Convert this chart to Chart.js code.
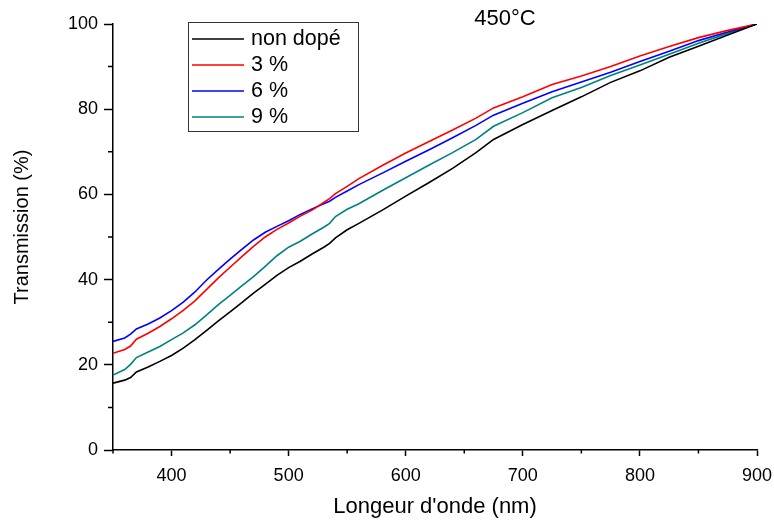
<!DOCTYPE html>
<html>
<head>
<meta charset="utf-8">
<script src="https://cdn.jsdelivr.net/npm/chart.js@4/dist/chart.umd.min.js"></script>
<style>
  html, body { margin: 0; padding: 0; background: #fff; }
  #wrap { width: 774px; height: 520px; }
</style>
</head>
<body>
<div id="wrap"><canvas id="chart" width="774" height="520"></canvas></div>
<script>
// longueur d'onde (nm)
const wavelengths = [350, 360, 365, 370, 380, 390, 400, 410, 420, 430, 440, 450, 460, 470, 480, 490,
  500, 510, 520, 530, 535, 540, 550, 560, 580, 600, 620, 640, 660, 675, 700, 725, 750, 775, 800, 825, 850, 875, 900];

const nonDope = [15.7, 16.4, 17.0, 18.3, 19.5, 20.8, 22.2, 23.9, 25.9, 28.1, 30.3, 32.4, 34.6, 36.8, 38.9, 41.0,
  42.8, 44.3, 46.0, 47.6, 48.5, 49.8, 51.7, 53.2, 56.3, 59.6, 62.8, 66.1, 69.8, 72.9, 76.4, 79.7, 82.9, 86.3, 89.0, 92.2, 94.8, 97.4, 100];
const dope3 = [22.7, 23.6, 24.4, 26.0, 27.4, 29.0, 30.8, 32.8, 35.0, 37.7, 40.4, 42.9, 45.4, 47.8, 50.0, 51.8,
  53.3, 54.9, 56.3, 58.1, 59.0, 60.2, 61.9, 63.7, 66.8, 69.7, 72.4, 75.1, 77.9, 80.3, 82.9, 85.8, 87.8, 90.0, 92.5, 94.7, 96.8, 98.5, 100];
const dope6 = [25.5, 26.3, 27.2, 28.4, 29.6, 31.0, 32.7, 34.7, 37.1, 39.9, 42.4, 44.8, 47.1, 49.3, 51.1, 52.5,
  53.8, 55.3, 56.6, 57.8, 58.4, 59.3, 60.8, 62.3, 65.0, 67.8, 70.5, 73.3, 76.2, 78.6, 81.4, 84.1, 86.4, 88.7, 91.2, 93.6, 96.1, 98.1, 100];
const dope9 = [17.6, 18.9, 20.1, 21.7, 23.0, 24.3, 25.9, 27.5, 29.4, 31.7, 34.1, 36.3, 38.5, 40.7, 43.1, 45.6,
  47.6, 49.0, 50.7, 52.3, 53.2, 54.8, 56.5, 57.8, 60.9, 63.9, 66.9, 69.8, 72.9, 76.0, 79.2, 82.7, 85.1, 87.9, 90.4, 92.9, 95.5, 97.8, 100];

const seriesNames = ['non dopé', '3 %', '6 %', '9 %'];
const seriesColors = ['#000000', '#ff0000', '#0000ff', '#008080'];
const seriesValues = [nonDope, dope3, dope6, dope9];

const xMajor = [400, 500, 600, 700, 800, 900];
const xMinor = [350, 450, 550, 650, 750, 850];
const yMajor = [0, 20, 40, 60, 80, 100];
const yMinor = [10, 30, 50, 70, 90];

const FONT = 'Arial, "Liberation Sans", sans-serif';

// petites graduations + legende + titres
const extras = {
  id: 'extras',
  afterDraw(chart) {
    const ctx = chart.ctx;
    const x = chart.scales.x, y = chart.scales.y;
    ctx.save();
    ctx.strokeStyle = '#000';
    ctx.lineWidth = 1.5;
    ctx.beginPath();
    xMinor.forEach(v => {
      const px = x.getPixelForValue(v);
      ctx.moveTo(px, x.top); ctx.lineTo(px, x.top + 3.5);
    });
    yMinor.forEach(v => {
      const py = y.getPixelForValue(v);
      ctx.moveTo(y.right, py); ctx.lineTo(y.right - 5, py);
    });
    ctx.stroke();

    // legende
    const bx = 188, by = 22, bw = 170, bh = 109;
    ctx.lineWidth = 1;
    ctx.strokeStyle = '#333';
    ctx.strokeRect(bx + 0.5, by + 0.5, bw, bh);
    ctx.font = '21.5px ' + FONT;
    ctx.textBaseline = 'middle';
    ctx.fillStyle = '#000';
    seriesNames.forEach((name, i) => {
      const ry = 39 + i * 26;
      ctx.strokeStyle = seriesColors[i];
      ctx.lineWidth = 1.5;
      ctx.beginPath();
      ctx.moveTo(192, ry); ctx.lineTo(244, ry);
      ctx.stroke();
      ctx.fillText(name, 251, ry);
    });

    ctx.font = '22px ' + FONT;
    ctx.textAlign = 'center';
    ctx.fillText('450°C', 505, 19);

    // titre axe y
    ctx.translate(22, 227);
    ctx.rotate(-Math.PI / 2);
    ctx.font = '20px ' + FONT;
    ctx.fillText('Transmission (%)', 0, 0);
    ctx.restore();
  }
};

new Chart(document.getElementById('chart'), {
  type: 'line',
  data: {
    datasets: seriesValues.map((vals, i) => ({
      label: seriesNames[i],
      data: wavelengths.map((w, j) => ({ x: w, y: vals[j] })),
      borderColor: seriesColors[i],
      borderWidth: 1.6,
      pointRadius: 0,
      tension: 0,
      fill: false
    }))
  },
  plugins: [extras],
  options: {
    responsive: false,
    animation: false,
    layout: { padding: { top: 24, right: 17, left: 0, bottom: 0 } },
    plugins: { legend: { display: false }, tooltip: { enabled: false } },
    scales: {
      x: {
        type: 'linear',
        min: 350, max: 900,
        afterBuildTicks: s => { s.ticks = xMajor.map(v => ({ value: v })); },
        afterFit: s => { s.height = 70; s.paddingLeft = 0; s.paddingRight = 0; },
        ticks: { color: '#000', font: { size: 18, family: FONT }, padding: 9, maxRotation: 0 },
        grid: { display: true, drawOnChartArea: false, drawTicks: true, tickLength: 6, color: '#000', tickWidth: 1.5 },
        border: { display: true, color: '#000', width: 1.5 },
        title: { display: true, text: "Longeur d'onde (nm)", color: '#000', font: { size: 22, family: FONT }, padding: { top: 0, bottom: 0 } }
      },
      y: {
        min: 0, max: 100,
        afterBuildTicks: s => { s.ticks = yMajor.map(v => ({ value: v })); },
        afterFit: s => { s.width = 113; s.paddingTop = 0; s.paddingBottom = 0; },
        ticks: { color: '#000', font: { size: 18, family: FONT }, padding: 6 },
        grid: { display: true, drawOnChartArea: false, drawTicks: true, tickLength: 9, color: '#000', tickWidth: 1.5 },
        border: { display: true, color: '#000', width: 1.5 }
      }
    }
  }
});
</script>
</body>
</html>
